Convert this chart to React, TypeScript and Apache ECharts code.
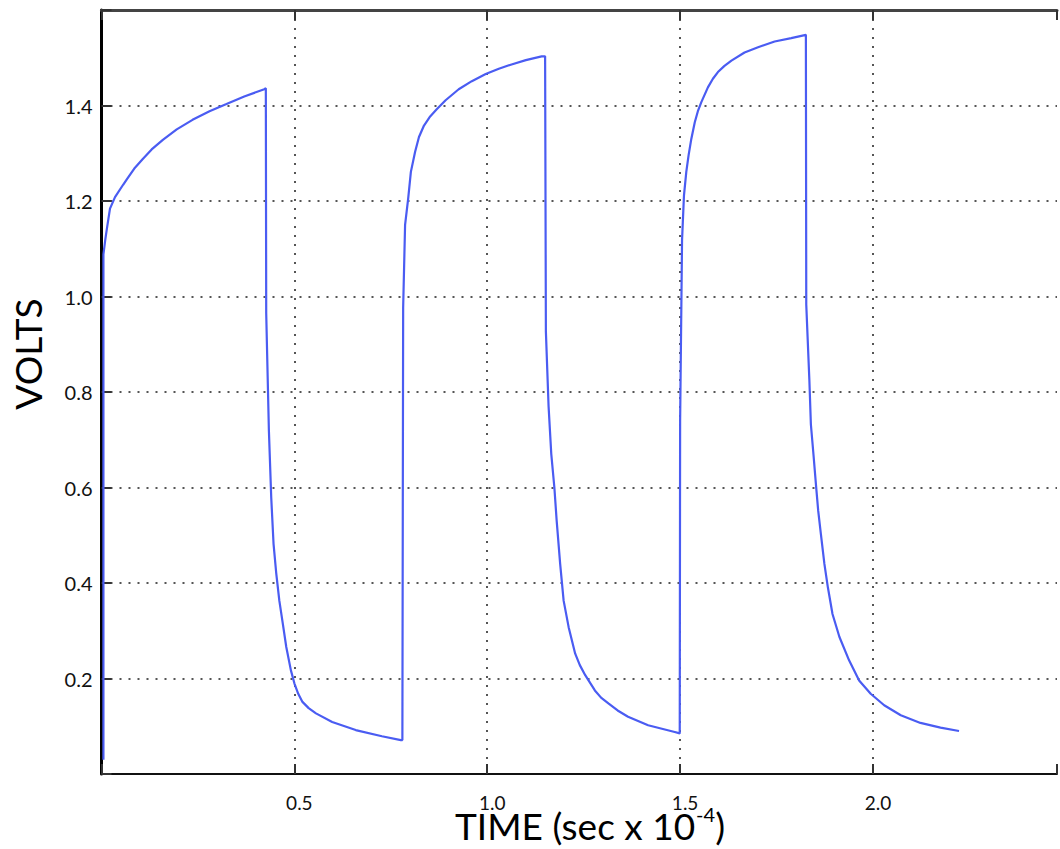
import React, { useEffect, useRef } from "react";
import * as echarts from "echarts";

// Time (sec x 1e-4) / Volts pairs, cycle by cycle
const cycle1: [number, number][] = [
  [0.005, 0.03], [0.005, 1.088], [0.01, 1.12], [0.014, 1.142], [0.022, 1.184], [0.035, 1.208],
  [0.056, 1.234], [0.066, 1.246], [0.085, 1.268], [0.107, 1.288], [0.13, 1.308], [0.159, 1.328],
  [0.195, 1.35], [0.236, 1.37], [0.28, 1.388], [0.324, 1.403], [0.37, 1.419], [0.422, 1.434],
  [0.426, 1.436], [0.427, 0.965], [0.434, 0.718], [0.44, 0.579], [0.446, 0.482], [0.453, 0.42],
  [0.461, 0.363], [0.47, 0.315], [0.479, 0.266], [0.491, 0.217], [0.5, 0.19], [0.51, 0.168],
  [0.521, 0.151], [0.537, 0.138], [0.556, 0.127], [0.598, 0.109], [0.659, 0.092], [0.727, 0.079],
  [0.776, 0.071],
];
const cycle2: [number, number][] = [
  [0.78, 0.071], [0.782, 0.977], [0.787, 1.15], [0.795, 1.205], [0.802, 1.261], [0.813, 1.303],
  [0.823, 1.334], [0.836, 1.358], [0.852, 1.377], [0.869, 1.392], [0.892, 1.411], [0.926, 1.434],
  [0.96, 1.451], [0.996, 1.466], [1.03, 1.477], [1.063, 1.486], [1.1, 1.495], [1.141, 1.503],
  [1.15, 1.503], [1.152, 0.927], [1.159, 0.77], [1.166, 0.67], [1.174, 0.6], [1.18, 0.53],
  [1.189, 0.44], [1.198, 0.363], [1.211, 0.3075], [1.228, 0.252], [1.24, 0.228], [1.254, 0.207],
  [1.279, 0.175], [1.295, 0.16], [1.314, 0.148], [1.338, 0.133], [1.365, 0.12], [1.417, 0.102],
  [1.486, 0.088], [1.499, 0.085],
];
const cycle3: [number, number][] = [
  [1.5, 0.74], [1.505, 1.118], [1.51, 1.212], [1.516, 1.261], [1.522, 1.296], [1.529, 1.33],
  [1.538, 1.365], [1.546, 1.388], [1.555, 1.407], [1.572, 1.438], [1.585, 1.456], [1.598, 1.47],
  [1.615, 1.483], [1.633, 1.494], [1.667, 1.511], [1.702, 1.522], [1.745, 1.534], [1.788, 1.541],
  [1.826, 1.548], [1.827, 0.983], [1.835, 0.826], [1.839, 0.732], [1.846, 0.666], [1.852, 0.607],
  [1.858, 0.551], [1.865, 0.502], [1.874, 0.44], [1.883, 0.391], [1.895, 0.335], [1.913, 0.287],
  [1.938, 0.238], [1.964, 0.196], [1.994, 0.168], [2.029, 0.144], [2.072, 0.123], [2.123, 0.107],
  [2.175, 0.097], [2.223, 0.09],
];

const xTickLabels = ["0.5", "1.0", "1.5", "2.0"];
const yTickLabels = ["0.2", "0.4", "0.6", "0.8", "1.0", "1.2", "1.4"];
const yAxisTitle = "VOLTS";
const xAxisTitle = "TIME (sec x 10";
const xAxisTitleSup = "-4";
const xAxisTitleEnd = ")";

export default function App() {
  const ref = useRef<HTMLDivElement>(null);

  useEffect(() => {
    document.body.style.margin = "0";
    if (!ref.current) return;
    const chart = echarts.init(ref.current, undefined, { renderer: "svg" });
    const gridDots = { type: [2, 7] as any, color: "#555", width: 2 };
    const tickStyle = { color: "#333", width: 2 };
    const fmtX = (v: number) => {
      const s = v.toFixed(1);
      return xTickLabels.includes(s) && Math.abs(v * 2 - Math.round(v * 2)) < 1e-6 ? s : "";
    };
    const fmtY = (v: number) => {
      const s = v.toFixed(1);
      return yTickLabels.includes(s) && Math.abs(v * 5 - Math.round(v * 5)) < 1e-6 ? s : "";
    };

    // measure title pieces to lay them out side by side, centred
    const titleSize = 37;
    const supSize = 20;
    const ctx = document.createElement("canvas").getContext("2d");
    const measure = (t: string, size: number) => {
      if (!ctx) return t.length * size * 0.5;
      ctx.font = `${size}px Lato`;
      return ctx.measureText(t).width;
    };
    const w1 = measure(xAxisTitle, titleSize);
    const w2 = measure(xAxisTitleSup, supSize) + 1;
    const w3 = measure(xAxisTitleEnd, titleSize);
    const titleCx = 590;
    const startX = titleCx - (w1 + w2 + w3) / 2;
    const titleY = 825;

    chart.setOption({
      animation: false,
      backgroundColor: "#ffffff",
      grid: { left: 101.5, right: 0, top: 10, bottom: 75 },
      xAxis: [
        {
          type: "value",
          position: "bottom",
          min: 0,
          max: 2.477,
          interval: 0.5,
          axisLine: { show: true, onZero: false, lineStyle: { color: "#111", width: 2 } },
          axisTick: { show: true, inside: true, length: 10, lineStyle: tickStyle },
          axisLabel: {
            formatter: fmtX,
            fontFamily: "Lato",
            fontSize: 19,
            color: "#111",
            margin: 19,
            padding: [0, 0, 0, 10],
          },
          splitLine: { show: true, showMinLine: false, showMaxLine: false, lineStyle: gridDots },
        },
        {
          type: "value",
          position: "top",
          min: 0,
          max: 2.477,
          interval: 0.5,
          axisLine: { show: true, onZero: false, lineStyle: { color: "#444", width: 3 } },
          axisTick: { show: true, inside: true, length: 10, lineStyle: tickStyle },
          axisLabel: { show: false },
          splitLine: { show: false },
        },
      ],
      yAxis: {
        type: "value",
        min: 0,
        max: 1.6,
        interval: 0.2,
        axisLine: { show: true, onZero: false, lineStyle: { color: "#000", width: 3 } },
        axisTick: { show: true, inside: true, length: 10, lineStyle: tickStyle },
        axisLabel: {
          formatter: fmtY,
          fontFamily: "Lato",
          fontSize: 20,
          color: "#111",
          margin: 9,
        },
        splitLine: { show: true, showMinLine: false, showMaxLine: false, lineStyle: gridDots },
      },
      series: [
        {
          type: "line",
          xAxisIndex: 0,
          data: [...cycle1, ...cycle2, ...cycle3],
          showSymbol: false,
          symbol: "none",
          lineStyle: { color: "#4a5cf2", width: 2.2 },
          z: 5,
        },
      ],
      graphic: [
        {
          type: "text",
          x: 27,
          y: 354,
          rotation: Math.PI / 2,
          style: {
            text: yAxisTitle,
            fontFamily: "Lato",
            fontSize: 37,
            fill: "#000",
            align: "center",
            verticalAlign: "middle",
          },
        },
        {
          type: "text",
          x: startX,
          y: titleY,
          style: {
            text: xAxisTitle,
            fontFamily: "Lato",
            fontSize: titleSize,
            fill: "#000",
            align: "left",
            verticalAlign: "middle",
          },
        },
        {
          type: "text",
          x: startX + w1 + 1,
          y: titleY - 11,
          style: {
            text: xAxisTitleSup,
            fontFamily: "Lato",
            fontSize: supSize,
            fill: "#000",
            align: "left",
            verticalAlign: "middle",
          },
        },
        {
          type: "text",
          x: startX + w1 + w2,
          y: titleY,
          style: {
            text: xAxisTitleEnd,
            fontFamily: "Lato",
            fontSize: titleSize,
            fill: "#000",
            align: "left",
            verticalAlign: "middle",
          },
        },
      ],
    });
    return () => chart.dispose();
  }, []);

  return <div ref={ref} style={{ width: 1060, height: 849 }} />;
}
